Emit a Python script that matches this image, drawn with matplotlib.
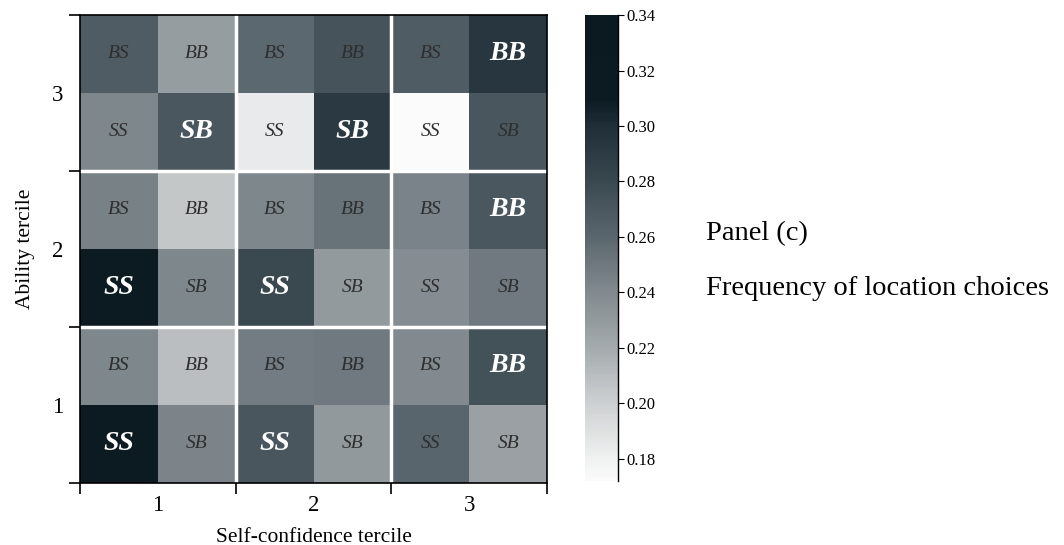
import numpy as np
import matplotlib
matplotlib.use("Agg")
import matplotlib.pyplot as plt
from matplotlib.colors import LinearSegmentedColormap

plt.rcParams['font.family'] = ['Liberation Serif', 'DejaVu Serif']

# rows: ability tercile 1..3, columns: self-confidence tercile 1..3
choices = ["BS", "BB", "SS", "SB"]
freq_BS = [[0.242, 0.248, 0.240],
           [0.245, 0.242, 0.244],
           [0.267, 0.259, 0.267]]
freq_BB = [[0.210, 0.250, 0.274],
           [0.205, 0.253, 0.270],
           [0.228, 0.273, 0.293]]
freq_SS = [[0.312, 0.271, 0.261],
           [0.314, 0.280, 0.238],
           [0.242, 0.184, 0.172]]
freq_SB = [[0.243, 0.231, 0.226],
           [0.242, 0.230, 0.250],
           [0.270, 0.291, 0.271]]
tercile_labels = ["1", "2", "3"]
cbar_ticks = [0.18, 0.20, 0.22, 0.24, 0.26, 0.28, 0.30, 0.32, 0.34]
vmin, vmax = 0.172, 0.34

# white -> dark slate, flat above ~0.31
cmap = LinearSegmentedColormap.from_list("slate", [
    (0.0, "#fbfbfb"), (0.05, "#eff0f0"), (0.167, "#cdd0d1"),
    (0.286, "#a4aaad"), (0.405, "#828a8f"), (0.524, "#5a666d"),
    (0.643, "#3a4850"), (0.762, "#1f2e37"), (0.82, "#0c1a22"),
    (1.0, "#0b1920")])

# build the 6x6 grid: each tercile cell is 2x2 (top: BS BB, bottom: SS SB)
series = {"BS": np.array(freq_BS), "BB": np.array(freq_BB),
          "SS": np.array(freq_SS), "SB": np.array(freq_SB)}
offsets = {"BS": (1, 0), "BB": (1, 1), "SS": (0, 0), "SB": (0, 1)}
grid = np.zeros((6, 6))
for ch in choices:
    dy, dx = offsets[ch]
    grid[dy::2, dx::2] = series[ch]

fig = plt.figure(figsize=(10.64, 5.45), dpi=100)
ax = fig.add_axes([0.0752, 0.1138, 0.439, 0.859])
cax = fig.add_axes([0.550, 0.1174, 0.031, 0.855])

mesh = ax.pcolormesh(np.arange(7), np.arange(7), grid, cmap=cmap,
                     vmin=vmin, vmax=vmax)

for a in range(3):
    for c in range(3):
        block = {ch: series[ch][a, c] for ch in choices}
        best = max(block, key=block.get)
        for ch in choices:
            dy, dx = offsets[ch]
            x = 2 * c + dx + 0.5
            y = 2 * a + dy + 0.5
            if ch == best:
                ax.text(x, y, ch, ha="center", va="center", fontsize=20,
                        style="italic", weight="bold", color="white")
            else:
                ax.text(x, y, ch, ha="center", va="center", fontsize=14,
                        style="italic", color="#2e2e2e")

for k in (2, 4):
    ax.axvline(k, color="white", lw=2.5)
    ax.axhline(k, color="white", lw=2.5)

ax.set_xlim(0, 6)
ax.set_ylim(0, 6)
ax.set_xticks([0, 2, 4, 6])
ax.set_yticks([0, 2, 4, 6])
ax.set_xticklabels([])
ax.set_yticklabels([])
ax.set_xticks([1, 3, 5], minor=True)
ax.set_yticks([1, 3, 5], minor=True)
ax.set_xticklabels(tercile_labels, minor=True, fontsize=16.5)
ax.set_yticklabels(tercile_labels, minor=True, fontsize=16.5)
ax.tick_params(which="major", length=8, width=1.2)
ax.tick_params(axis="x", which="minor", length=0, pad=9)
ax.tick_params(axis="y", which="minor", length=0, pad=12)
for s in ax.spines.values():
    s.set_linewidth(1.2)
ax.set_xlabel("Self-confidence tercile", fontsize=15.5, labelpad=8)
ax.set_ylabel("Ability tercile", fontsize=15.5, labelpad=12)

cbar = fig.colorbar(mesh, cax=cax, ticks=cbar_ticks)
cbar.outline.set_visible(False)
cax.spines["right"].set_visible(True)
cax.spines["right"].set_linewidth(1.0)
cax.tick_params(length=4, width=0.8, labelsize=12, pad=2)
cax.set_yticklabels(["%.2f" % t for t in cbar_ticks])

fig.text(0.664, 0.572, "Panel (c)", fontsize=20.5, va="center")
fig.text(0.664, 0.470, "Frequency of location choices", fontsize=20.5,
         va="center")

fig.savefig("out.png", dpi=100)
